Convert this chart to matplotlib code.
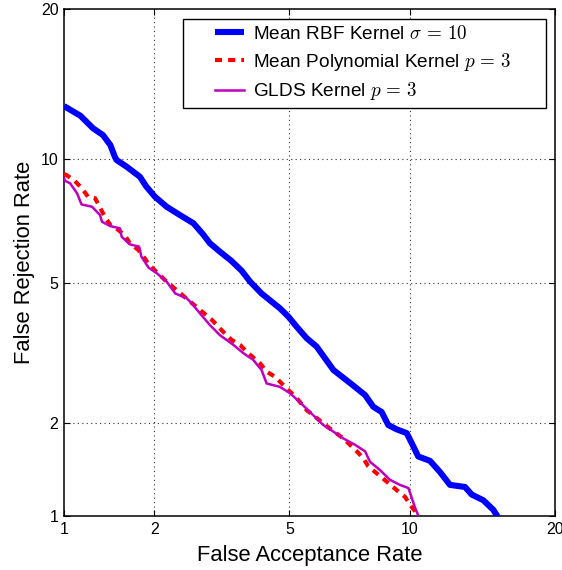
import numpy as np
import matplotlib
matplotlib.use("Agg")
import matplotlib.pyplot as plt
from matplotlib.patches import Rectangle
from matplotlib.ticker import FixedLocator, FixedFormatter, NullLocator
from statistics import NormalDist

# DET curves: false acceptance / false rejection rates in percent
rbf_far = [1.00, 1.14, 1.26, 1.36, 1.44, 1.49, 1.51, 1.63, 1.80, 1.89, 2.01, 2.19,
           2.41, 2.65, 2.83, 2.97, 3.18, 3.44, 3.68, 3.89, 4.19, 4.42, 4.71, 4.97,
           5.23, 5.56, 5.91, 6.53, 7.19, 7.84, 8.21, 8.60, 8.92, 9.34, 9.85, 10.12,
           10.47, 11.13, 11.71, 12.32, 13.27, 13.71, 14.49, 15.19, 15.53]
rbf_frr = [13.01, 12.42, 11.68, 11.30, 10.75, 10.13, 9.96, 9.62, 9.13, 8.66, 8.21, 7.77,
           7.42, 7.09, 6.67, 6.33, 6.03, 5.71, 5.39, 5.05, 4.70, 4.51, 4.29, 4.07,
           3.82, 3.55, 3.36, 2.88, 2.64, 2.43, 2.24, 2.16, 1.97, 1.91, 1.86, 1.73,
           1.57, 1.52, 1.40, 1.27, 1.25, 1.18, 1.13, 1.05, 0.99]

poly_far = [1.00, 1.02, 1.09, 1.15, 1.21, 1.28, 1.33, 1.38, 1.44, 1.53, 1.61, 1.67,
            1.78, 1.85, 1.92, 2.04, 2.19, 2.35, 2.59, 2.84, 3.01, 3.25, 3.44, 3.64,
            3.80, 4.15, 4.33, 4.57, 4.92, 5.23, 5.56, 5.85, 6.40, 6.92, 7.48, 7.76,
            7.98, 8.68, 9.34, 9.76, 10.03, 10.39, 10.51]
poly_frr = [9.26, 9.21, 8.93, 8.61, 8.21, 8.14, 7.73, 7.35, 7.02, 6.83, 6.61, 6.33,
            6.09, 5.86, 5.60, 5.34, 5.05, 4.80, 4.47, 4.17, 3.99, 3.70, 3.51, 3.40,
            3.25, 3.01, 2.85, 2.75, 2.54, 2.38, 2.19, 2.09, 1.92, 1.79, 1.63, 1.55,
            1.46, 1.33, 1.22, 1.16, 1.09, 1.02, 0.98]

glds_far = [1.00, 1.01, 1.05, 1.11, 1.15, 1.25, 1.33, 1.35, 1.44, 1.55, 1.57, 1.67,
            1.79, 1.82, 1.92, 2.04, 2.19, 2.33, 2.53, 2.62, 2.77, 2.97, 3.18, 3.48,
            3.72, 3.97, 4.19, 4.33, 4.71, 5.02, 5.34, 5.65, 6.15, 6.53, 6.92, 7.40,
            7.84, 8.06, 8.52, 9.00, 9.50, 9.94, 10.12, 10.29, 10.51]
glds_frr = [9.07, 8.93, 8.82, 8.36, 7.87, 7.77, 7.42, 7.15, 6.98, 6.89, 6.57, 6.29,
            6.21, 5.86, 5.49, 5.31, 5.05, 4.70, 4.56, 4.42, 4.16, 3.86, 3.62, 3.40,
            3.22, 3.08, 2.88, 2.63, 2.57, 2.46, 2.31, 2.17, 1.97, 1.88, 1.79, 1.71,
            1.63, 1.51, 1.42, 1.32, 1.27, 1.24, 1.15, 1.07, 0.99]

tick_values = [1, 2, 5, 10, 20]
tick_labels = ["1", "2", "5", "10", "20"]
grid_values = [2, 5, 10]

_nd = NormalDist()


def probit(p):
    """Normal-deviate (DET) axis transform of a percentage."""
    p = np.clip(np.asarray(p, dtype=float) / 100.0, 1e-9, 1 - 1e-9)
    flat = np.array([_nd.inv_cdf(float(v)) for v in p.ravel()])
    return flat.reshape(p.shape)


def probit_inv(z):
    z = np.asarray(z, dtype=float)
    flat = np.array([_nd.cdf(float(v)) for v in z.ravel()]) * 100.0
    return flat.reshape(z.shape)


plt.rcParams["font.family"] = ["Liberation Sans", "DejaVu Sans"]
plt.rcParams["mathtext.fontset"] = "cm"

W, H = 562, 570
fig = plt.figure(figsize=(W / 100, H / 100), dpi=100)
ax = fig.add_axes([64 / W, 54 / H, 491 / W, 507 / H])
ax.set_xscale("function", functions=(probit, probit_inv))
ax.set_yscale("function", functions=(probit, probit_inv))

ax.plot(rbf_far, rbf_frr, color="#0000ff", lw=4.4, solid_capstyle="butt",
        label=r"Mean RBF Kernel $\sigma\,=\,10$", zorder=3)
ax.plot(poly_far, poly_frr, color="#ff0000", lw=3.0, dashes=(1.7, 1.45),
        label=r"Mean Polynomial Kernel $p\,=\,3$", zorder=4)
ax.plot(glds_far, glds_frr, color="#bf00bf", lw=1.8,
        label=r"GLDS Kernel $p\,=\,3$", zorder=5)

ax.set_xlim(1, 20)
ax.set_ylim(1, 20)
for axis in (ax.xaxis, ax.yaxis):
    axis.set_major_locator(FixedLocator(tick_values))
    axis.set_major_formatter(FixedFormatter(tick_labels))
    axis.set_minor_locator(NullLocator())

for v in grid_values:
    ax.axvline(v, color="#333333", lw=0.8, ls=(0, (1, 3)), zorder=1)
    ax.axhline(v, color="#333333", lw=0.8, ls=(0, (1, 3)), zorder=1)

ax.tick_params(which="major", direction="in", length=4, width=0.8,
               top=True, right=True, labelsize=11.5, pad=4)
for s in ax.spines.values():
    s.set_linewidth(1.1)

ax.set_xlabel("False Acceptance Rate", fontsize=15.8, labelpad=6)
ax.set_ylabel("False Rejection Rate", fontsize=15.8, labelpad=4)

# legend entries without frame, drawn over a separate white box
leg = ax.legend(loc="upper left", bbox_to_anchor=(215 / W, 1 - 25 / H),
                bbox_transform=fig.transFigure, borderaxespad=0, borderpad=0,
                fontsize=13.7, handlelength=1.5, handletextpad=0.5,
                labelspacing=0.4, frameon=False)
leg.set_zorder(7)
box = Rectangle((183 / W, 1 - 108 / H), (546 - 183) / W, (108 - 19) / H,
                transform=fig.transFigure, facecolor="white", edgecolor="black",
                lw=1.0, zorder=6)
fig.add_artist(box)
fig.add_artist(leg)

fig.savefig("out.png")
